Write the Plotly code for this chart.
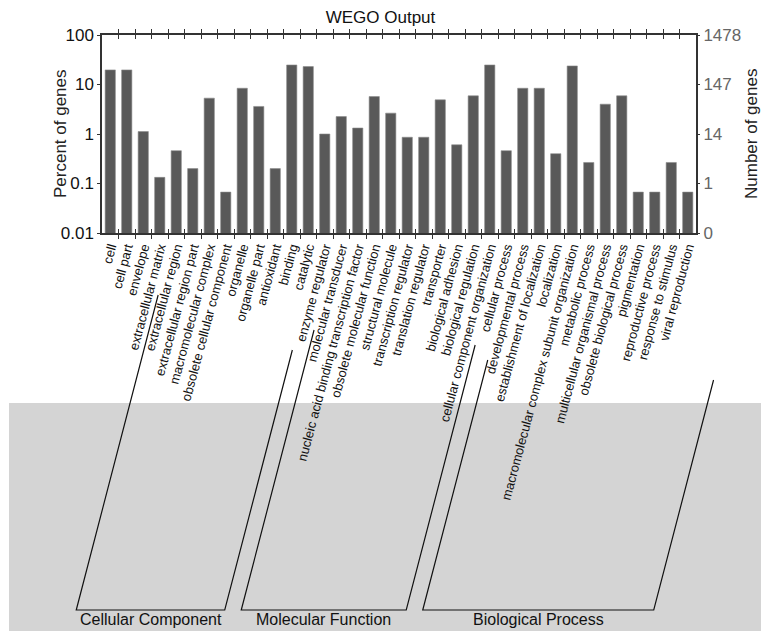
import plotly.graph_objects as go

# ---------------- data ----------------
cc_terms = ["cell", "cell part", "envelope", "extracellular matrix", "extracellular region",
            "extracellular region part", "macromolecular complex", "obsolete cellular component",
            "organelle", "organelle part"]
cc_pct = [19.7, 19.7, 1.12, 0.133, 0.46, 0.20, 5.3, 0.067, 8.4, 3.6]

mf_terms = ["antioxidant", "binding", "catalytic", "enzyme regulator", "molecular transducer",
            "nucleic acid binding transcription factor", "obsolete molecular function",
            "structural molecule", "transcription regulator", "translation regulator", "transporter"]
mf_pct = [0.20, 24.8, 23.0, 1.0, 2.25, 1.32, 5.7, 2.64, 0.86, 0.86, 4.9]

bp_terms = ["biological adhesion", "biological regulation", "cellular component organization",
            "cellular process", "developmental process", "establishment of localization",
            "localization", "macromolecular complex subunit organization", "metabolic process",
            "multicellular organismal process", "obsolete biological process", "pigmentation",
            "reproductive process", "response to stimulus", "viral reproduction"]
bp_pct = [0.605, 5.9, 24.8, 0.46, 8.4, 8.4, 0.40, 23.7, 0.266, 4.0, 5.9, 0.067, 0.067, 0.266, 0.067]

group_names = ["Cellular Component", "Molecular Function", "Biological Process"]
total_genes = 1478
pct_ticks = [0.01, 0.1, 1, 10, 100]
pct_ticktext = ["0.01", "0.1", "1", "10", "100"]

# ---------------- layout geometry ----------------
W, H = 761, 631
L, R, T, B = 102, 65, 35, 398
plot_w = W - L - R
plot_h = H - T - B

categories = cc_terms + mf_terms + bp_terms
percents = cc_pct + mf_pct + bp_pct
n = len(categories)
groups = [cc_terms, mf_terms, bp_terms]

def xp(px):   # page pixel -> paper x
    return (px - L) / plot_w

def yp(py):   # page pixel -> paper y
    return (H - B - py) / plot_h

def bar_px(i):  # page pixel of bar centre
    return L + (i + 0.5) * plot_w / n

fig = go.Figure()
fig.add_trace(go.Bar(
    x=categories, y=percents, width=0.62,
    marker=dict(color="#595959", line=dict(color="#8c8c8c", width=0.6)),
    showlegend=False, hoverinfo="x+y"))
fig.add_trace(go.Scatter(
    x=categories, y=percents, yaxis="y2", mode="markers",
    marker=dict(opacity=0), showlegend=False, hoverinfo="skip"))

gene_ticktext = [str(int(total_genes * p / 100)) for p in pct_ticks]

font_family = "Liberation Sans, Arial, Helvetica, sans-serif"

shapes = []
# grey band in lower part of the picture
shapes.append(dict(type="rect", xref="paper", yref="paper",
                   x0=xp(9), x1=xp(W + 5), y0=yp(403), y1=yp(H + 5),
                   fillcolor="#d4d4d4", line=dict(width=0), layer="below"))

# group brackets
slope = 0.26
bottom_py = 610
offset_px = -34
top_py = [(295, 350), (330, 345), (360, 380)]
annotations = []
start = 0
for g, terms in enumerate(groups):
    first, last = start, start + len(terms) - 1
    bl = bar_px(first) + offset_px
    br = bar_px(last) + offset_px
    tl_y, tr_y = top_py[g]
    tl_x = bl + slope * (bottom_py - tl_y)
    tr_x = br + slope * (bottom_py - tr_y)
    path = (f"M {xp(tl_x)},{yp(tl_y)} L {xp(bl)},{yp(bottom_py)} "
            f"L {xp(br)},{yp(bottom_py)} L {xp(tr_x)},{yp(tr_y)}")
    shapes.append(dict(type="path", xref="paper", yref="paper", path=path,
                       line=dict(color="#111111", width=1.2)))
    annotations.append(dict(text=group_names[g], xref="paper", yref="paper",
                            x=xp((bl + br) / 2), y=yp(619), showarrow=False,
                            xanchor="center", yanchor="middle",
                            font=dict(size=16, color="#111111", family=font_family)))
    start = last + 1

annotations.append(dict(text="Percent of genes", xref="paper", yref="paper",
                        x=xp(60), y=0.5, textangle=-90, showarrow=False,
                        xanchor="center", yanchor="middle",
                        font=dict(size=17, color="#222222", family=font_family)))
annotations.append(dict(text="Number of genes", xref="paper", yref="paper",
                        x=xp(751), y=0.5, textangle=-90, showarrow=False,
                        xanchor="center", yanchor="middle",
                        font=dict(size=17, color="#222222", family=font_family)))

fig.update_layout(
    width=W, height=H,
    margin=dict(l=L, r=R, t=T, b=B, pad=0),
    paper_bgcolor="white", plot_bgcolor="white",
    font=dict(family=font_family, color="#111111"),
    title=dict(text="WEGO Output", x=xp((L + W - R) / 2), xanchor="center",
               y=1 - 17 / H, yanchor="middle", font=dict(size=17, color="#111111")),
    xaxis=dict(type="category", range=[-0.5, n - 0.5], tickangle=-75,
               tickmode="array", tickvals=categories, ticktext=categories,
               tickfont=dict(size=13, color="#111111"),
               ticks="inside", ticklen=4, tickson="boundaries", tickcolor="#333333",
               showline=True, linecolor="#333333", linewidth=1.5, mirror="allticks",
               showgrid=False, automargin=False),
    yaxis=dict(type="log", range=[-2, 2], tickvals=pct_ticks, ticktext=pct_ticktext,
               tickfont=dict(size=17, color="#111111"), ticks="outside", ticklen=3,
               tickcolor="#333333", showline=True, linecolor="#333333", linewidth=1.5,
               mirror=True, showgrid=False, zeroline=False, automargin=False),
    yaxis2=dict(type="log", range=[-2, 2], overlaying="y", side="right",
                tickvals=pct_ticks, ticktext=gene_ticktext,
                tickfont=dict(size=17, color="#666666"), ticks="outside", ticklen=3,
                tickcolor="#333333", showline=False, showgrid=False, zeroline=False,
                automargin=False),
    shapes=shapes,
    annotations=annotations,
)

fig.write_html("out.html",
               config={"displayModeBar": False},
               post_script="document.body.style.margin='0';"
                           "document.body.style.overflow='hidden';")
